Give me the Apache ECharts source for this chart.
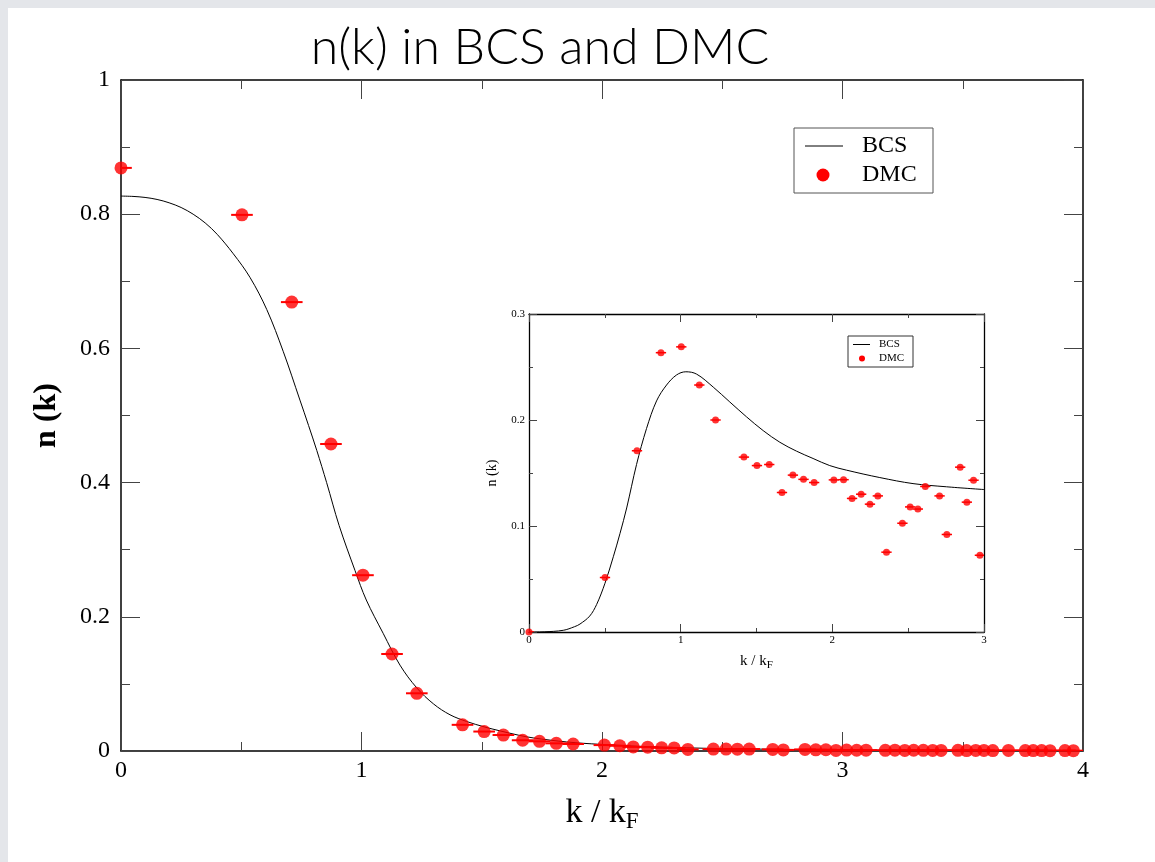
<!DOCTYPE html>
<html>
<head>
<meta charset="utf-8">
<script src="https://cdn.jsdelivr.net/npm/echarts@6/dist/echarts.min.js"></script>
<style>
html,body{margin:0;padding:0;width:1155px;height:862px;background:#e4e6ea;overflow:hidden;}
#bg{position:absolute;left:8px;top:8px;width:1147px;height:854px;background:#fff;}
#chart{position:absolute;left:0;top:0;width:1155px;height:862px;}
</style>
</head>
<body>
<div id="bg"></div>
<div id="chart"></div>
<script>
// ---- Main plot: DMC n(k) ----
const kMain = [0, 0.503, 0.71, 0.873, 1.006, 1.127, 1.23, 1.42, 1.51, 1.59, 1.67, 1.74, 1.81, 1.88,
  2.01, 2.074, 2.13, 2.19, 2.248, 2.30, 2.357, 2.463, 2.516, 2.563, 2.612, 2.71, 2.754, 2.844, 2.889, 2.931, 2.973,
  3.017, 3.059, 3.098, 3.178, 3.218, 3.259, 3.296, 3.336, 3.375, 3.41, 3.48, 3.516, 3.554, 3.588, 3.625, 3.69,
  3.76, 3.793, 3.828, 3.863, 3.925, 3.96];
const nMain = [0.869, 0.799, 0.669, 0.4575, 0.262, 0.1446, 0.086, 0.039, 0.029, 0.0238, 0.016, 0.0144, 0.0114, 0.0104,
  0.0088, 0.0078, 0.0061, 0.0057, 0.0047, 0.0046, 0.0024, 0.0028, 0.0029, 0.0027, 0.0029, 0.0024, 0.0016, 0.0024, 0.0018, 0.0019, 0.0009,
  0.0014, 0.0011, 0.0013, 0.0010, 0.0012, 0.0009, 0.0011, 0.0010, 0.0008, 0.0009, 0.0010, 0.0007, 0.0008, 0.0009, 0.0007, 0.0008,
  0.0006, 0.0007, 0.0006, 0.0005, 0.0006, 0.0005];

// ---- Main plot: BCS curve ----
const kBcs = [0, 0.05, 0.1, 0.15, 0.2, 0.25, 0.3, 0.35, 0.4, 0.467, 0.536, 0.606, 0.675, 0.744, 0.78, 0.814, 0.855, 0.907,
  0.973, 1.02, 1.09, 1.16, 1.23, 1.30, 1.368, 1.437, 1.51, 1.576, 1.654, 1.714, 1.853, 1.99, 2.2, 2.5, 3.0, 3.5, 4.0];
const nBcs = [0.827, 0.8265, 0.825, 0.822, 0.817, 0.81, 0.800, 0.787, 0.770, 0.741, 0.706, 0.658, 0.595, 0.523, 0.485, 0.448, 0.400, 0.336,
  0.269, 0.225, 0.1754, 0.128, 0.094, 0.070, 0.054, 0.044, 0.036, 0.030, 0.0235, 0.0195, 0.0135, 0.010, 0.0064, 0.0036, 0.00166, 0.0009, 0.0005];

// ---- Inset: DMC ----
const kIn = [0, 0.501, 0.712, 0.870, 1.004, 1.123, 1.23, 1.417, 1.503, 1.584, 1.668, 1.74, 1.81, 1.88, 2.01, 2.074,
  2.13, 2.19, 2.248, 2.30, 2.357, 2.462, 2.513, 2.564, 2.613, 2.707, 2.755, 2.843, 2.887, 2.931, 2.973];
const vIn = [0, 0.0514, 0.171, 0.2635, 0.269, 0.233, 0.200, 0.165, 0.157, 0.158, 0.1316, 0.148, 0.144, 0.141, 0.1435, 0.1437,
  0.126, 0.130, 0.1206, 0.1284, 0.0753, 0.1026, 0.118, 0.116, 0.1373, 0.1284, 0.092, 0.1555, 0.1225, 0.1432, 0.0724];

// ---- Inset: BCS curve ----
const kBcsIn = [0, 0.1, 0.226, 0.3, 0.336, 0.4, 0.446, 0.501, 0.556, 0.6, 0.644, 0.709, 0.775, 0.841, 0.907, 0.973, 1.034, 1.105,
  1.215, 1.324, 1.434, 1.544, 1.654, 1.764, 1.873, 1.983, 2.093, 2.313, 2.532, 2.752, 3.0];
const vBcsIn = [0, 0.0002, 0.0016, 0.005, 0.0075, 0.015, 0.026, 0.046, 0.071, 0.093, 0.117, 0.158, 0.192, 0.218, 0.233, 0.2425, 0.2455, 0.2433,
  0.231, 0.217, 0.203, 0.190, 0.179, 0.1706, 0.1637, 0.157, 0.1527, 0.1457, 0.140, 0.137, 0.1344];

const zip = (a, b) => a.map((v, i) => [v, b[i]]);
const SERIF = '"Liberation Serif", "DejaVu Serif", serif';

function errBar(dx, w) {
  return function (params, api) {
    const x = api.value(0), y = api.value(1);
    const p1 = api.coord([x - dx, y]);
    const p2 = api.coord([x + dx, y]);
    return {
      type: 'line',
      shape: { x1: p1[0], y1: p1[1], x2: p2[0], y2: p2[1] },
      style: { stroke: '#ff0000', lineWidth: w }
    };
  };
}

function xAx(gi, min, max, interval, opts) {
  return Object.assign({
    type: 'value', gridIndex: gi, min: min, max: max, interval: interval,
    axisLine: { show: true, onZero: false, lineStyle: { color: '#000', width: opts.lw } },
    axisTick: { show: true, inside: true, length: opts.tl, lineStyle: { color: '#444', width: 1 } },
    minorTick: { show: true, splitNumber: 2, length: opts.ml, lineStyle: { color: '#444', width: 1 } },
    splitLine: { show: false },
    axisLabel: { show: opts.labels, color: '#000', fontFamily: SERIF, fontSize: opts.fs, margin: opts.lm }
  }, opts.extra || {});
}

const mainOpts = { lw: 1.5, tl: 19, ml: 9, fs: 24, lm: 8, labels: true };
const inOpts = { lw: 1.3, tl: 8, ml: 4, fs: 11, lm: 3, labels: true };

const chart = echarts.init(document.getElementById('chart'), null, { renderer: 'canvas' });
chart.setOption({
  backgroundColor: 'transparent',
  animation: false,
  title: {
    text: 'n(k) in BCS and DMC',
    left: 535, top: 18, textAlign: 'center',
    textStyle: { fontFamily: 'Lato, "Open Sans", sans-serif', fontWeight: 300, fontSize: 50, color: '#000' }
  },
  grid: [
    { left: 121, top: 80, width: 962, height: 671, show: false },
    { left: 529, top: 314, width: 455, height: 318, show: true, backgroundColor: '#fff', borderWidth: 0 }
  ],
  xAxis: [
    xAx(0, 0, 4, 1, Object.assign({}, mainOpts, { extra: {
      position: 'bottom',
      name: '{a|k / k}{s|F}', nameLocation: 'middle', nameGap: 42,
      nameTextStyle: { rich: {
        a: { fontFamily: SERIF, fontSize: 34, color: '#000' },
        s: { fontFamily: SERIF, fontSize: 23, color: '#000', padding: [17, 0, 0, 0] }
      } }
    } })),
    xAx(0, 0, 4, 1, Object.assign({}, mainOpts, { labels: false, extra: { position: 'top' } })),
    xAx(1, 0, 3, 1, Object.assign({}, inOpts, { extra: {
      position: 'bottom',
      name: '{a|k / k}{s|F}', nameLocation: 'middle', nameGap: 20,
      nameTextStyle: { rich: {
        a: { fontFamily: SERIF, fontSize: 15, color: '#000' },
        s: { fontFamily: SERIF, fontSize: 11, color: '#000', padding: [8, 0, 0, 0] }
      } }
    } })),
    xAx(1, 0, 3, 1, Object.assign({}, inOpts, { labels: false, extra: { position: 'top' } }))
  ],
  yAxis: [
    xAx(0, 0, 1, 0.2, Object.assign({}, mainOpts, { lm: 11, extra: {
      position: 'left',
      name: 'n (k)', nameLocation: 'middle', nameGap: 58,
      nameTextStyle: { fontFamily: SERIF, fontSize: 32, fontWeight: 'bold', color: '#000' }
    } })),
    xAx(0, 0, 1, 0.2, Object.assign({}, mainOpts, { labels: false, extra: { position: 'right' } })),
    xAx(1, 0, 0.3, 0.1, Object.assign({}, inOpts, { lm: 4, extra: {
      position: 'left',
      name: 'n (k)', nameLocation: 'middle', nameGap: 30,
      nameTextStyle: { fontFamily: SERIF, fontSize: 14, color: '#000' }
    } })),
    xAx(1, 0, 0.3, 0.1, Object.assign({}, inOpts, { labels: false, extra: { position: 'right' } }))
  ],
  series: [
    { name: 'BCS', type: 'line', xAxisIndex: 0, yAxisIndex: 0, data: zip(kBcs, nBcs), smooth: 0.35,
      showSymbol: false, lineStyle: { color: '#000', width: 1 }, z: 2 },
    { type: 'custom', xAxisIndex: 0, yAxisIndex: 0, data: zip(kMain, nMain), renderItem: errBar(0.045, 2), clip: true, z: 3 },
    { name: 'DMC', type: 'scatter', xAxisIndex: 0, yAxisIndex: 0, data: zip(kMain, nMain), symbol: 'circle', symbolSize: 13,
      itemStyle: { color: '#ff0000' }, z: 4 },
    { name: 'BCS', type: 'line', xAxisIndex: 2, yAxisIndex: 2, data: zip(kBcsIn, vBcsIn), smooth: 0.35,
      showSymbol: false, lineStyle: { color: '#000', width: 1 }, z: 2 },
    { type: 'custom', xAxisIndex: 2, yAxisIndex: 2, data: zip(kIn, vIn), renderItem: errBar(0.034, 1.5), clip: true, z: 3 },
    { name: 'DMC', type: 'scatter', xAxisIndex: 2, yAxisIndex: 2, data: zip(kIn, vIn), symbol: 'circle', symbolSize: 7,
      itemStyle: { color: '#ff0000' }, z: 4 }
  ],
  graphic: [
    // main legend
    { type: 'rect', shape: { x: 794, y: 128, width: 139, height: 65 }, style: { fill: '#fff', stroke: '#555', lineWidth: 1 }, z: 10 },
    { type: 'line', shape: { x1: 805, y1: 146, x2: 843, y2: 146 }, style: { stroke: '#000', lineWidth: 1 }, z: 11 },
    { type: 'text', x: 862, y: 146, style: { text: 'BCS', font: '24px ' + SERIF, fill: '#000', textVerticalAlign: 'middle' }, z: 11 },
    { type: 'circle', shape: { cx: 823, cy: 175, r: 6.5 }, style: { fill: '#ff0000' }, z: 11 },
    { type: 'text', x: 862, y: 175, style: { text: 'DMC', font: '24px ' + SERIF, fill: '#000', textVerticalAlign: 'middle' }, z: 11 },
    // inset legend
    { type: 'rect', shape: { x: 848, y: 336, width: 65, height: 31 }, style: { fill: '#fff', stroke: '#333', lineWidth: 1 }, z: 10 },
    { type: 'line', shape: { x1: 853, y1: 344.5, x2: 870, y2: 344.5 }, style: { stroke: '#000', lineWidth: 1 }, z: 11 },
    { type: 'text', x: 879, y: 344.5, style: { text: 'BCS', font: '11px ' + SERIF, fill: '#000', textVerticalAlign: 'middle' }, z: 11 },
    { type: 'circle', shape: { cx: 862, cy: 358.5, r: 3 }, style: { fill: '#ff0000' }, z: 11 },
    { type: 'text', x: 879, y: 358.5, style: { text: 'DMC', font: '11px ' + SERIF, fill: '#000', textVerticalAlign: 'middle' }, z: 11 }
  ]
});
</script>
</body>
</html>
